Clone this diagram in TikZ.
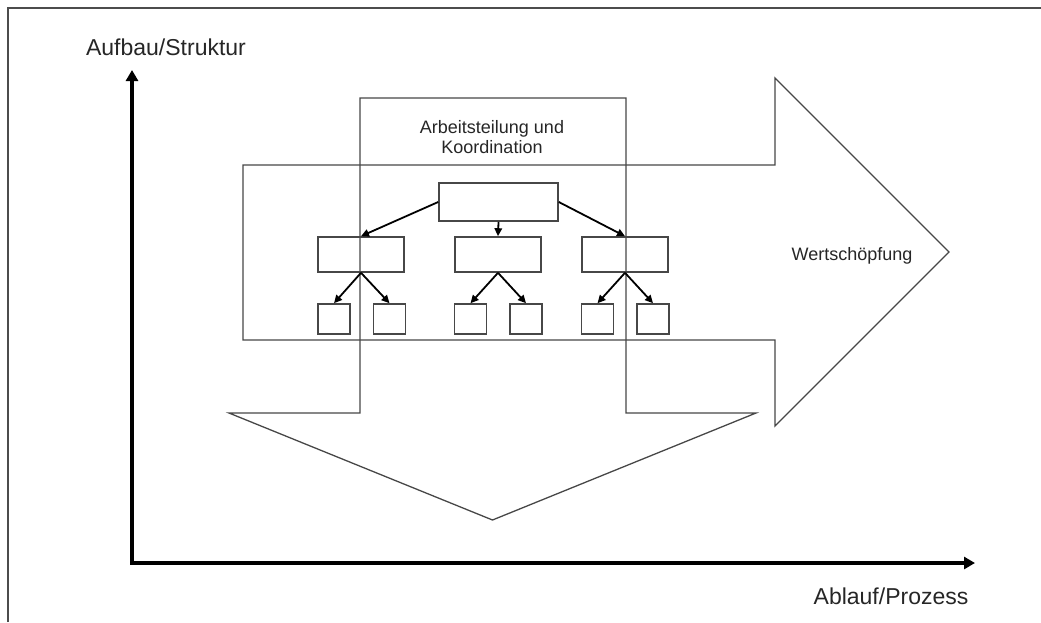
\documentclass[tikz,border=0pt]{standalone}
\usepackage{fontspec}
\setmainfont{Liberation Sans}
\usetikzlibrary{arrows.meta}
\begin{document}
\begin{tikzpicture}[x=1pt,y=-1pt,
  shapeline/.style={draw=black!72,line width=1.3pt,line join=miter},
  framestyle/.style={draw=black!70,line width=1.3pt},
  axis/.style={draw=black,line width=3.6pt,line join=miter,{Triangle[length=11pt,width=12pt]}-{Triangle[length=11pt,width=12pt]}},
  orgbox/.style={draw=black!72,line width=1.6pt,minimum width=#1,inner sep=0pt},
  bigbox/.style={orgbox=119pt,minimum height=38pt},
  midbox/.style={orgbox=86pt,minimum height=35pt},
  smallbox/.style={orgbox=32pt,minimum height=30pt},
  link/.style={draw=black,line width=1.8pt,-{Triangle[length=8pt,width=7.5pt]}},
  biglabel/.style={font=\fontsize{23}{27}\selectfont,text=black!85,inner sep=0pt},
  smalllabel/.style={font=\fontsize{18}{20}\selectfont,text=black!85,inner sep=0pt,align=center}
]
\useasboundingbox (0,0) rectangle (1041,622);
% frame (right and bottom edges cut off)
\draw[framestyle] (8,622) -- (8,8) -- (1041,8);

% horizontal arrow (Wertschoepfung)
\draw[shapeline] (243,165) -- (775,165) -- (775,78) -- (949,252) -- (775,426) -- (775,340) -- (243,340) -- cycle;
% vertical arrow (Arbeitsteilung und Koordination)
\draw[shapeline] (360,98) -- (626,98) -- (626,413) -- (756,413) -- (492.5,520) -- (229,413) -- (360,413) -- cycle;

\node[smalllabel] (ak) at (492,137) {Arbeitsteilung und\\Koordination};
\node[smalllabel] (ws) at (852,256) {Wertschöpfung};

% axes
\coordinate (ytip) at (132,70);
\coordinate (xtip) at (975,563);
\draw[axis] (ytip) |- (xtip);
\node[biglabel] (ylab) at (166,47) {Aufbau/Struktur};
\node[biglabel] (xlab) at (891,596) {Ablauf/Prozess};

% organisation chart
\node[bigbox] (top) at (498.5,202) {};
\node[midbox] (ml) at (361,254.5) {};
\node[midbox] (mm) at (498,254.5) {};
\node[midbox] (mr) at (625,254.5) {};
\node[smallbox] (b1) at (334,319) {};
\node[smallbox] (b2) at (389.5,319) {};
\node[smallbox] (b3) at (470.5,319) {};
\node[smallbox] (b4) at (526,319) {};
\node[smallbox] (b5) at (597.5,319) {};
\node[smallbox] (b6) at (653,319) {};

\draw[link] (top.west) -- (ml.north);
\draw[link] (top.south) -- (mm.north);
\draw[link] (top.east) -- (mr.north);
\draw[link] (ml.south) -- (b1.north);
\draw[link] (ml.south) -- (b2.north);
\draw[link] (mm.south) -- (b3.north);
\draw[link] (mm.south) -- (b4.north);
\draw[link] (mr.south) -- (b5.north);
\draw[link] (mr.south) -- (b6.north);
\end{tikzpicture}
\end{document}
